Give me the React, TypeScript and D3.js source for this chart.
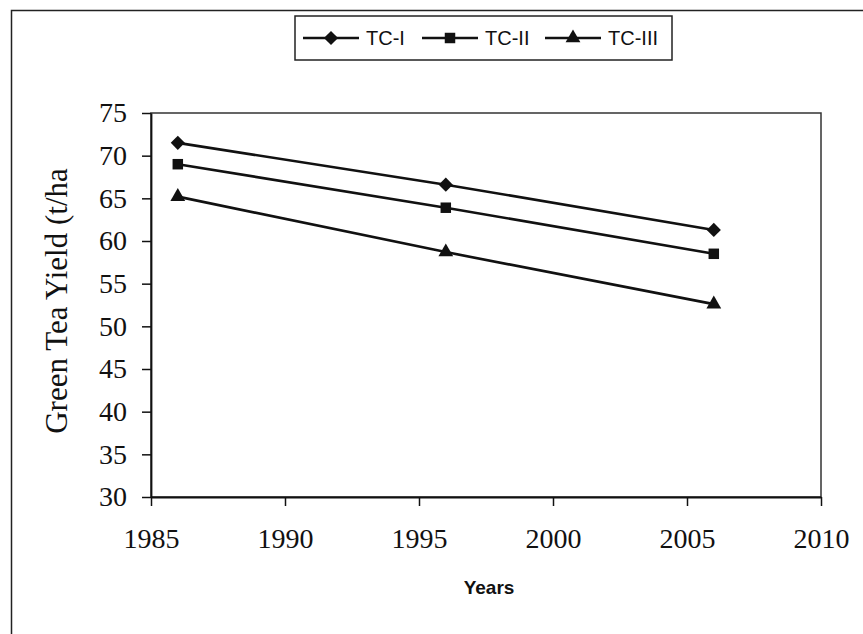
import React, { useEffect, useRef } from "react";
import * as d3 from "d3";

const years = [1986, 1996, 2006];
const tc1 = [71.5, 66.6, 61.3];
const tc2 = [69.0, 63.9, 58.5];
const tc3 = [65.2, 58.7, 52.6];
const seriesNames = ["TC-I", "TC-II", "TC-III"];
const xTicks = [1985, 1990, 1995, 2000, 2005, 2010];
const yTicks = [30, 35, 40, 45, 50, 55, 60, 65, 70, 75];

export default function App() {
  const ref = useRef<SVGSVGElement | null>(null);

  useEffect(() => {
    const svg = d3.select(ref.current);
    svg.selectAll("*").remove();

    const dims = { left: 151, right: 821, top: 113, bottom: 497 };
    const serif = "'Liberation Serif', 'Times New Roman', serif";
    const sans = "'Liberation Sans', Arial, sans-serif";

    // outer chart border (runs off the page right and bottom)
    svg
      .append("rect")
      .attr("x", 11.5)
      .attr("y", 10.5)
      .attr("width", 900)
      .attr("height", 700)
      .attr("fill", "#fff")
      .attr("stroke", "#222")
      .attr("stroke-width", 1.5);

    const x = d3.scaleLinear().domain([1985, 2010]).range([dims.left, dims.right]);
    const y = d3.scaleLinear().domain([30, 75]).range([dims.bottom, dims.top]);

    // plot frame
    svg
      .append("rect")
      .attr("x", dims.left)
      .attr("y", dims.top)
      .attr("width", dims.right - dims.left)
      .attr("height", dims.bottom - dims.top)
      .attr("fill", "none")
      .attr("stroke", "#333")
      .attr("stroke-width", 1.5);

    const yAxis = svg
      .append("g")
      .attr("transform", `translate(${dims.left},0)`)
      .call(d3.axisLeft(y).tickValues(yTicks).tickSize(9).tickSizeOuter(0).tickPadding(15));
    const xAxis = svg
      .append("g")
      .attr("transform", `translate(0,${dims.bottom})`)
      .call(d3.axisBottom(x).tickValues(xTicks).tickFormat(d3.format("d")).tickSize(9).tickSizeOuter(0).tickPadding(22));

    [yAxis, xAxis].forEach(g => {
      g.attr("font-family", serif).attr("font-size", 28);
      g.select(".domain").attr("stroke", "#111").attr("stroke-width", 1.8);
      g.selectAll(".tick line").attr("stroke", "#111").attr("stroke-width", 1.5);
      g.selectAll(".tick text").attr("fill", "#111");
    });

    // axis titles
    svg
      .append("text")
      .attr("transform", `translate(67,301) rotate(-90)`)
      .attr("text-anchor", "middle")
      .attr("font-family", serif)
      .attr("font-size", 31)
      .attr("fill", "#111")
      .text("Green Tea Yield (t/ha");

    svg
      .append("text")
      .attr("x", (dims.left + dims.right) / 2 + 3)
      .attr("y", 594)
      .attr("text-anchor", "middle")
      .attr("font-family", sans)
      .attr("font-size", 19)
      .attr("font-weight", "bold")
      .attr("fill", "#111")
      .text("Years");

    const symbols = [
      { type: d3.symbolSquare, size: 100, rotate: 45 },
      { type: d3.symbolSquare, size: 110, rotate: 0 },
      { type: d3.symbolTriangle, size: 95, rotate: 0 }
    ];
    const allSeries = [tc1, tc2, tc3];

    const line = d3
      .line<number>()
      .x((d, i) => x(years[i]))
      .y(d => y(d));

    allSeries.forEach((vals, s) => {
      svg
        .append("path")
        .attr("d", line(vals))
        .attr("fill", "none")
        .attr("stroke", "#111")
        .attr("stroke-width", 2.6);

      const sym = d3.symbol().type(symbols[s].type).size(symbols[s].size);
      svg
        .append("g")
        .selectAll("path")
        .data(vals)
        .enter()
        .append("path")
        .attr("d", sym)
        .attr("fill", "#111")
        .attr("transform", (d, i) => `translate(${x(years[i])},${y(d)}) rotate(${symbols[s].rotate})`);
    });

    // legend
    const leg = svg.append("g");
    leg
      .append("rect")
      .attr("x", 295)
      .attr("y", 16)
      .attr("width", 377)
      .attr("height", 44)
      .attr("fill", "#fff")
      .attr("stroke", "#222")
      .attr("stroke-width", 1.5);

    const itemX = [303, 422, 545];
    seriesNames.forEach((name, s) => {
      const x0 = itemX[s];
      const cy = 38;
      leg
        .append("line")
        .attr("x1", x0)
        .attr("x2", x0 + 56)
        .attr("y1", cy)
        .attr("y2", cy)
        .attr("stroke", "#111")
        .attr("stroke-width", 2.6);
      const sym = d3.symbol().type(symbols[s].type).size(symbols[s].size);
      leg
        .append("path")
        .attr("d", sym())
        .attr("fill", "#111")
        .attr("transform", `translate(${x0 + 28},${cy}) rotate(${symbols[s].rotate})`);
      leg
        .append("text")
        .attr("x", x0 + 63)
        .attr("y", cy + 7)
        .attr("font-family", sans)
        .attr("font-size", 20)
        .attr("fill", "#111")
        .text(name);
    });
  }, []);

  return (
    <svg
      ref={ref}
      width={863}
      height={634}
      style={{ position: "absolute", left: 0, top: 0, background: "#fff" }}
    />
  );
}
